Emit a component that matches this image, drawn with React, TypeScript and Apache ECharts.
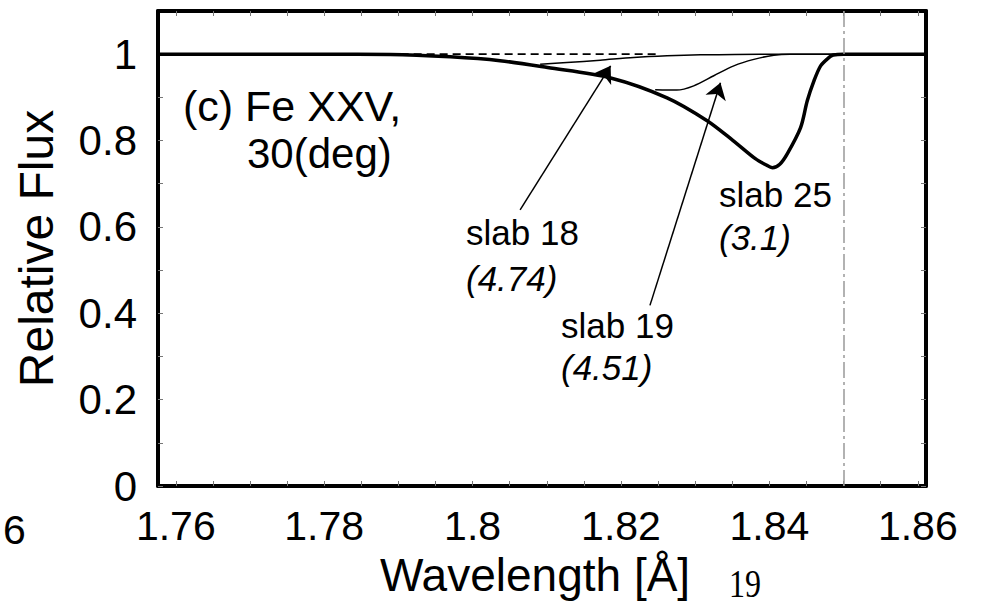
import React, { useEffect, useRef } from 'react';
import * as echarts from 'echarts';

const FONT = "'Liberation Sans', Arial, Helvetica, sans-serif";

// axis ticks / labels
const xTickValues = [1.76, 1.78, 1.8, 1.82, 1.84, 1.86];
const xTickLabels = ['1.76', '1.78', '1.8', '1.82', '1.84', '1.86'];
const xMinorTicks = [
  1.76, 1.765, 1.77, 1.775, 1.78, 1.785, 1.79, 1.795, 1.8, 1.805, 1.81,
  1.815, 1.82, 1.825, 1.83, 1.835, 1.84, 1.845, 1.85, 1.855, 1.86,
];
const yTickValues = [0, 0.2, 0.4, 0.6, 0.8, 1];
const yTickLabels = ['0', '0.2', '0.4', '0.6', '0.8', '1'];
const yMinorTicks = [0, 0.1, 0.2, 0.3, 0.4, 0.5, 0.6, 0.7, 0.8, 0.9, 1.0];

// slab 25 (thick curve)
const slab25Wavelength = [
  1.7576, 1.77, 1.78, 1.7889, 1.797, 1.8037, 1.8101, 1.8186, 1.8262, 1.8316,
  1.8351, 1.8381, 1.8395, 1.8404, 1.8414, 1.8424, 1.8442, 1.8451, 1.846,
  1.8469, 1.848, 1.8486, 1.85, 1.8611,
];
const slab25Flux = [
  1.0, 1.0, 1.0, 0.9995, 0.994, 0.985, 0.969, 0.945, 0.899, 0.846,
  0.8, 0.758, 0.744, 0.737, 0.745, 0.769, 0.83, 0.892, 0.938,
  0.973, 0.992, 0.998, 1.0, 1.0,
];

// slab 19 (thin curve)
const slab19Wavelength = [1.8246, 1.8275, 1.8298, 1.8325, 1.8352, 1.8379, 1.8406, 1.8428, 1.85];
const slab19Flux = [0.9175, 0.9168, 0.9267, 0.95, 0.973, 0.988, 0.9977, 1.0, 1.0];

// slab 18 (thin curve)
const slab18Wavelength = [1.8091, 1.8127, 1.8172, 1.8217, 1.8262, 1.8307, 1.8388, 1.85];
const slab18Flux = [0.9764, 0.9806, 0.9861, 0.9922, 0.9961, 0.9984, 1.0, 1.0];

// dashed continuum level
const dashedWavelength = [1.7903, 1.8249];
const dashedFlux = [1.0, 1.0];

// vertical dash-dot marker
const markerWavelength = 1.85;

// annotation arrows: [tailX, tailY, headX, headY] in data units
const arrowSlab18 = [1.8064, 0.6395, 1.8186, 0.973];
const arrowSlab19 = [1.8239, 0.4183, 1.8334, 0.934];

const zip = (xs: number[], ys: number[]) => xs.map((x, i) => [x, ys[i]]);

const labelFor = (vals: number[], labels: string[]) => (v: number) => {
  const i = vals.findIndex((t) => Math.abs(t - v) < 1e-9);
  return i >= 0 ? labels[i] : '';
};

export default function App() {
  const ref = useRef<HTMLDivElement>(null);

  useEffect(() => {
    if (!ref.current) return;
    const chart = echarts.init(ref.current, undefined, { renderer: 'svg' });

    const xMin = 1.7576;
    const xMax = 1.8611;
    const yMin = 0;
    const yMax = 1.1;

    const frameLine = { show: true, onZero: false, lineStyle: { color: '#000', width: 4 } };

    const baseX = {
      type: 'value',
      min: xMin,
      max: xMax,
      splitLine: { show: false },
      axisLine: frameLine,
      axisTick: { show: true, inside: true, length: 5, customValues: xMinorTicks, lineStyle: { color: '#777', width: 1 } },
    };
    const baseY = {
      type: 'value',
      min: yMin,
      max: yMax,
      splitLine: { show: false },
      axisLine: frameLine,
      axisTick: { show: true, inside: true, length: 5, customValues: yMinorTicks, lineStyle: { color: '#777', width: 1 } },
    };

    const textStyle = (size: number, italic = false) => ({
      fontFamily: FONT,
      fontSize: size,
      fontStyle: italic ? 'italic' : 'normal',
      fill: '#000',
      verticalAlign: 'middle',
      align: 'left',
    });

    const texts: any[] = [
      { t: '(c) Fe XXV,', x: 183, y: 106, s: 43, i: false },
      { t: '30(deg)', x: 247, y: 153, s: 42, i: false },
      { t: 'slab 18', x: 466, y: 232, s: 35, i: false },
      { t: '(4.74)', x: 466, y: 278, s: 35, i: true },
      { t: 'slab 19', x: 561, y: 325, s: 35, i: false },
      { t: '(4.51)', x: 561, y: 367, s: 35, i: true },
      { t: 'slab 25', x: 719, y: 194, s: 35, i: false },
      { t: '(3.1)', x: 719, y: 237, s: 35, i: true },
      { t: '6', x: 3, y: 530, s: 41, i: false },
    ].map((d) => ({
      type: 'text',
      x: d.x,
      y: d.y,
      silent: true,
      style: { text: d.t, ...textStyle(d.s, d.i) },
    }));

    texts.push({
      type: 'text',
      x: 729,
      y: 584,
      scaleX: 0.8,
      silent: true,
      style: {
        text: '19',
        fontFamily: "'Liberation Serif', 'Times New Roman', serif",
        fontSize: 40,
        fill: '#000',
        verticalAlign: 'middle',
        align: 'left',
      },
    });

    const option: any = {
      animation: false,
      backgroundColor: '#fff',
      grid: { left: 158, right: 55, top: 11, bottom: 124, containLabel: false },
      xAxis: [
        {
          ...baseX,
          position: 'bottom',
          name: 'Wavelength [Å]',
          nameLocation: 'middle',
          nameGap: 66,
          nameTextStyle: { fontFamily: FONT, fontSize: 46, color: '#000', padding: [0, 14, 0, 0] },
          axisLabel: {
            show: true,
            customValues: xTickValues,
            formatter: labelFor(xTickValues, xTickLabels),
            fontFamily: FONT,
            fontSize: 41,
            color: '#000',
            margin: 19,
          },
        },
        { ...baseX, position: 'top', axisLabel: { show: false } },
      ],
      yAxis: [
        {
          ...baseY,
          position: 'left',
          name: 'Relative Flux',
          nameLocation: 'middle',
          nameGap: 98,
          nameTextStyle: { fontFamily: FONT, fontSize: 48, color: '#000' },
          axisLabel: {
            show: true,
            customValues: yTickValues,
            formatter: labelFor(yTickValues, yTickLabels),
            fontFamily: FONT,
            fontSize: 42,
            color: '#000',
            margin: 21,
          },
        },
        { ...baseY, position: 'right', axisLabel: { show: false } },
      ],
      graphic: texts,
      series: [
        {
          name: 'slab 18',
          type: 'line',
          data: zip(slab18Wavelength, slab18Flux),
          showSymbol: false,
          smooth: 0.3,
          lineStyle: { color: '#000', width: 1.5 },
          silent: true,
        },
        {
          name: 'slab 19',
          type: 'line',
          data: zip(slab19Wavelength, slab19Flux),
          showSymbol: false,
          smooth: 0.3,
          lineStyle: { color: '#000', width: 1.5 },
          silent: true,
        },
        {
          name: 'continuum',
          type: 'line',
          data: zip(dashedWavelength, dashedFlux),
          showSymbol: false,
          lineStyle: { color: '#000', width: 1.8, type: [8, 5] },
          silent: true,
        },
        {
          name: 'slab 25',
          type: 'line',
          data: zip(slab25Wavelength, slab25Flux),
          showSymbol: false,
          smooth: 0.3,
          lineStyle: { color: '#000', width: 3.5 },
          silent: true,
          markLine: {
            silent: true,
            animation: false,
            label: { show: false },
            symbol: ['none', 'arrow'],
            symbolSize: 16,
            lineStyle: { color: '#000', width: 1.5, type: 'solid' },
            data: [
              [
                { coord: [arrowSlab18[0], arrowSlab18[1]] },
                { coord: [arrowSlab18[2], arrowSlab18[3]] },
              ],
              [
                { coord: [arrowSlab19[0], arrowSlab19[1]] },
                { coord: [arrowSlab19[2], arrowSlab19[3]] },
              ],
            ],
          },
        },
        {
          name: 'marker',
          type: 'line',
          data: [],
          markLine: {
            silent: true,
            animation: false,
            symbol: 'none',
            label: { show: false },
            lineStyle: { color: '#999', width: 1.5, type: [16, 4, 3, 4] },
            data: [{ xAxis: markerWavelength }],
          },
        },
      ],
    };

    chart.setOption(option);
    return () => chart.dispose();
  }, []);

  return (
    <div
      ref={ref}
      style={{ position: 'absolute', left: 0, top: 0, width: 981, height: 610, background: '#fff' }}
    />
  );
}
